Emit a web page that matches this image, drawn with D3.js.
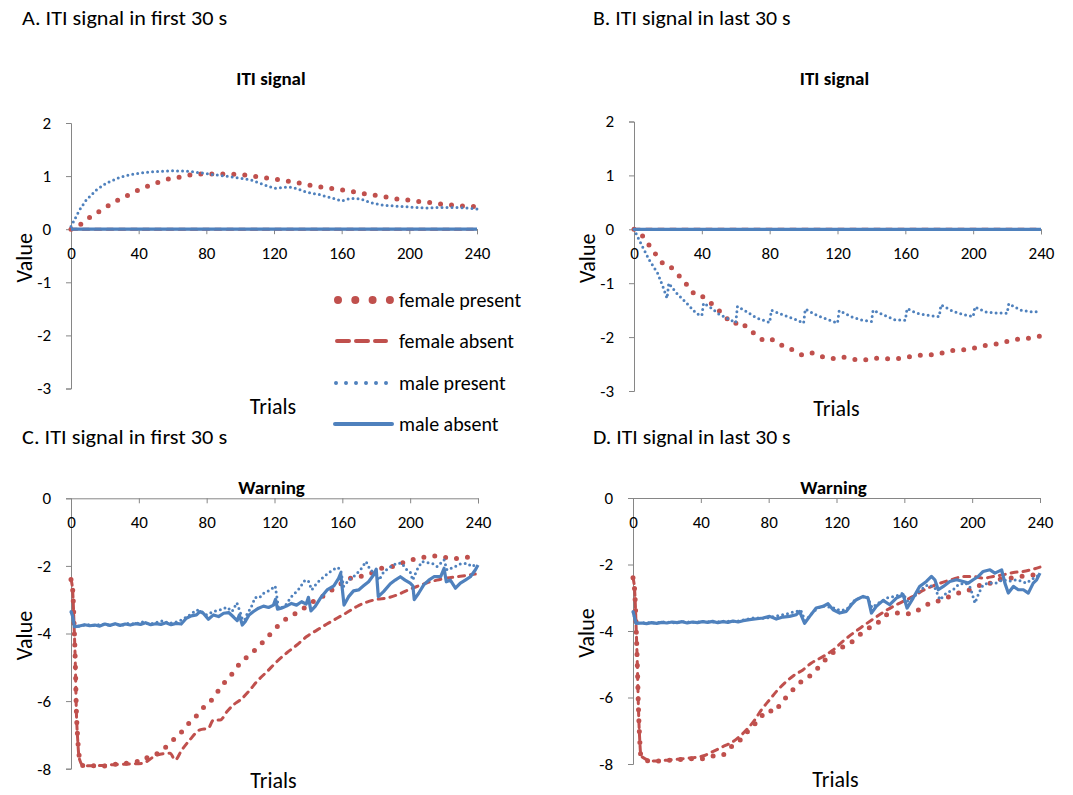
<!DOCTYPE html>
<html>
<head>
<meta charset="utf-8">
<script src="https://cdn.jsdelivr.net/npm/d3@7"></script>
<style>
  body { margin: 0; background: #fff; }
  text { font-family: Carlito, Calibri, Lato, "Noto Sans", sans-serif; fill: #000; }
</style>
</head>
<body>
<div id="chart"></div>
<script>
// trial axis ticks, shared by all four panels
const trialTicks = [0, 40, 80, 120, 160, 200, 240];
const itiTicks = [2, 1, 0, -1, -2, -3];
const warnTicks = [0, -2, -4, -6, -8];

const seriesNames = ["female present", "female absent", "male present", "male absent"];

// A. ITI signal, first 30 s
const aFemalePresent = [[0,0],[6.7,0.11],[11.8,0.24],[17.5,0.35],[23,0.46],[29,0.57],[35,0.66],[40.8,0.75],[47,0.83],[53,0.9],[59.6,0.96],[66,0.99],[72,1.03],[79,1.04],[86,1.04],[92,1.04],[99,1.03],[105.5,1.01],[112,0.98],[119,0.95],[125,0.92],[131.6,0.89],[138,0.85],[144.6,0.81],[151,0.78],[158,0.75],[164,0.72],[171,0.68],[177,0.65],[184,0.62],[190,0.58],[197,0.56],[203,0.53],[210,0.51],[216.6,0.48],[223,0.46],[230,0.44],[236,0.43],[240,0.42]];
const aFemaleAbsent = [[0,0],[240,0]];
const aMalePresent = [[0,0.05],[5,0.36],[9,0.55],[15,0.74],[21,0.87],[29,0.98],[37,1.04],[47,1.08],[60,1.1],[70,1.09],[84,1.03],[96,0.98],[106,0.93],[114,0.84],[120,0.77],[126,0.79],[131,0.79],[139,0.7],[147,0.65],[155,0.58],[160,0.53],[165,0.58],[171,0.57],[177,0.5],[185,0.45],[195,0.43],[203,0.41],[210,0.4],[218,0.41],[226,0.41],[234,0.4],[240,0.38]];
const aMaleAbsent = [[0,0],[240,0]];

// B. ITI signal, last 30 s
const bFemalePresent = [[0,0],[5.5,-0.14],[9.2,-0.31],[13.2,-0.48],[17.3,-0.64],[20.5,-0.68],[24.2,-0.77],[28.3,-0.93],[32.7,-1.08],[37,-1.24],[40.5,-1.25],[44.3,-1.34],[49.2,-1.48],[54,-1.63],[58.8,-1.76],[62.2,-1.71],[67.3,-1.85],[72.6,-1.97],[78,-2.08],[82,-2.05],[87.7,-2.16],[93.6,-2.24],[99.7,-2.33],[104,-2.29],[110.6,-2.36],[117,-2.4],[122,-2.37],[128.7,-2.41],[135,-2.43],[141,-2.39],[147,-2.4],[154,-2.4],[160,-2.38],[166,-2.34],[173,-2.33],[179,-2.32],[185,-2.26],[192,-2.24],[198.5,-2.22],[204,-2.17],[211,-2.14],[217,-2.11],[223,-2.05],[230,-2.03],[236.5,-2],[240,-1.98]];
const bFemaleAbsent = [[0,0],[240,0]];
const bMalePresent = [[0,0],[4,-0.26],[9,-0.57],[14,-0.82],[17,-1.06],[19.5,-1.28],[20.5,-1.0],[25,-1.18],[31,-1.37],[37,-1.57],[40,-1.6],[41,-1.37],[45,-1.45],[50,-1.57],[55,-1.65],[60,-1.73],[61,-1.43],[66,-1.52],[72,-1.64],[80,-1.73],[81,-1.5],[88,-1.59],[95,-1.67],[100,-1.74],[101,-1.48],[108,-1.6],[114,-1.67],[120,-1.74],[121,-1.51],[128,-1.62],[134,-1.68],[140,-1.71],[141,-1.5],[148,-1.6],[154,-1.68],[160,-1.69],[161,-1.47],[166,-1.55],[172,-1.59],[180,-1.62],[181,-1.4],[188,-1.52],[194,-1.58],[200,-1.62],[201,-1.44],[207,-1.53],[213,-1.55],[220,-1.56],[221,-1.38],[228,-1.5],[234,-1.53],[240,-1.53]];
const bMaleAbsent = [[0,0],[240,0]];

// C. Warning, first 30 s
const cFemalePresent = [[0,-2.4],[1,-2.71],[1.8,-3.7],[2.6,-4.98],[3.1,-6.16],[3.9,-7.05],[4.9,-7.64],[7.3,-7.91],[14,-7.91],[21,-7.92],[27,-7.86],[32.5,-7.84],[37.8,-7.79],[41.7,-7.79],[45.6,-7.64],[50.6,-7.56],[54.5,-7.43],[58.8,-7.2],[63.3,-7.03],[67.3,-6.78],[71.8,-6.54],[76,-6.33],[80,-6.07],[84,-5.92],[87.5,-5.64],[91.9,-5.37],[95.8,-5.15],[100,-4.86],[104.7,-4.66],[109.6,-4.44],[114,-4.21],[118.4,-3.97],[123,-3.73],[128,-3.53],[133.8,-3.37],[139,-3.19],[144,-3.02],[149.5,-2.87],[154.8,-2.68],[160.3,-2.49],[165.6,-2.35],[171,-2.31],[176.5,-2.23],[182.4,-2.08],[187.3,-2.04],[192.8,-1.98],[198.5,-1.84],[205,-1.79],[211.3,-1.71],[216.8,-1.71],[220.7,-1.75],[225,-1.79],[231.5,-1.75],[237.5,-1.74]];
const cFemaleAbsent = [[0,-2.4],[1,-2.75],[1.8,-3.75],[2.6,-5.0],[3.1,-6.2],[3.9,-7.1],[4.9,-7.7],[7.3,-7.91],[15,-7.91],[25,-7.88],[35,-7.86],[42,-7.84],[50.6,-7.6],[58.4,-7.54],[61.4,-7.74],[65.3,-7.45],[70,-7.15],[76,-6.85],[81,-6.8],[84,-6.56],[88,-6.56],[92,-6.31],[95.8,-6.11],[99.7,-5.97],[104.7,-5.72],[109.6,-5.42],[115.5,-5.13],[121.4,-4.83],[127.3,-4.57],[133.2,-4.34],[139,-4.09],[145,-3.9],[150.9,-3.72],[156.8,-3.55],[162.7,-3.38],[168.6,-3.2],[174.5,-3.07],[180.4,-2.99],[186.3,-2.95],[192.2,-2.86],[198,-2.73],[204,-2.61],[210,-2.5],[215.8,-2.42],[221.7,-2.36],[227.6,-2.32],[233.5,-2.28],[238.4,-2.24]];
const cMalePresent = [[0,-3.35],[1,-3.5],[2,-3.8],[6,-3.76],[10,-3.74],[14,-3.77],[18,-3.72],[22,-3.75],[26,-3.73],[30,-3.76],[34,-3.7],[38,-3.72],[42,-3.66],[46,-3.72],[50,-3.68],[54,-3.62],[58,-3.7],[62,-3.66],[66,-3.58],[70,-3.45],[74,-3.3],[77,-3.35],[80,-3.45],[84,-3.35],[88,-3.3],[92,-3.22],[95,-3.35],[97.8,-3.09],[100,-3.4],[101.7,-3.7],[104,-3.4],[106,-3.25],[108.6,-2.93],[111,-2.95],[113.5,-2.81],[117.5,-2.71],[120.4,-2.59],[122.4,-3.25],[126,-3.2],[130,-2.91],[134,-2.71],[138,-2.42],[140,-2.45],[142,-2.71],[145,-2.51],[149,-2.32],[152.9,-2.17],[156.8,-2.04],[159,-2.1],[160.7,-2.61],[163.7,-2.42],[166.6,-2.32],[170.6,-2.12],[174,-1.87],[176.5,-2.12],[179.5,-2.22],[181.6,-2.42],[184.5,-2.17],[188.5,-2.02],[192.2,-1.92],[195,-1.92],[197.7,-2.1],[200,-2.17],[201.5,-2.42],[204,-2.12],[207,-1.87],[210,-1.9],[213,-1.92],[216,-2.02],[220,-1.82],[221.7,-2.12],[225.7,-2.04],[229.6,-1.94],[233.5,-1.92],[236.5,-2.02],[239.4,-1.92]];
const cMaleAbsent = [[0,-3.35],[1,-3.5],[2,-3.8],[5,-3.78],[8,-3.74],[11,-3.77],[14,-3.75],[17,-3.78],[20,-3.72],[23,-3.76],[26,-3.71],[29,-3.76],[32,-3.72],[35,-3.75],[38,-3.71],[41,-3.73],[44,-3.68],[47,-3.74],[50,-3.71],[53,-3.73],[56,-3.68],[59,-3.74],[62,-3.7],[65,-3.72],[68,-3.55],[71,-3.48],[74,-3.45],[76,-3.35],[78,-3.4],[81,-3.58],[84,-3.45],[87,-3.5],[90,-3.4],[93,-3.38],[96,-3.52],[98,-3.62],[99.3,-3.45],[101,-3.75],[102.7,-3.65],[105,-3.45],[107.6,-3.35],[110.6,-3.25],[113.5,-3.19],[116.5,-3.23],[119.4,-3.16],[120.6,-2.99],[121.8,-3.28],[124,-3.25],[127,-3.19],[130,-3.11],[133,-3.16],[136,-3.06],[138.7,-3.13],[140,-2.93],[141.5,-3.33],[144,-3.2],[147,-2.96],[151,-2.71],[155,-2.59],[157.8,-2.37],[159,-2.22],[161,-3.16],[163.7,-2.91],[166.6,-2.74],[169.6,-2.71],[172.5,-2.59],[175.5,-2.47],[178.4,-2.27],[180,-2.1],[181.2,-2.91],[184.3,-2.76],[188.3,-2.53],[191.2,-2.42],[194.2,-2.32],[197,-2.42],[200,-2.51],[201.6,-2.59],[202.4,-3.0],[205,-2.81],[208,-2.56],[211,-2.42],[214,-2.32],[218,-2.32],[220,-2.07],[221.3,-2.47],[223.7,-2.42],[226.7,-2.66],[229.6,-2.51],[232.5,-2.42],[235.5,-2.32],[238.4,-2.12],[240,-1.97]];

// D. Warning, last 30 s
const dFemalePresent = [[0,-2.4],[1,-2.8],[1.8,-3.8],[2.6,-5.1],[3.2,-6.3],[3.9,-7.2],[4.7,-7.78],[9.6,-7.91],[15.6,-7.91],[22.4,-7.88],[28.4,-7.86],[34.8,-7.84],[40.8,-7.84],[46.7,-7.76],[51,-7.76],[55,-7.66],[59.3,-7.41],[63.2,-7.28],[67.3,-7.04],[71.3,-6.83],[75.8,-6.56],[80,-6.38],[82.9,-6.45],[87.2,-6.17],[91.6,-5.92],[95.9,-5.68],[100.2,-5.48],[104,-5.36],[108.5,-5.14],[113.2,-4.88],[118,-4.65],[123,-4.5],[128,-4.37],[133,-4.14],[138.2,-3.94],[143.5,-3.79],[149.4,-3.51],[155,-3.46],[159.3,-3.48],[164.2,-3.48],[170,-3.31],[175.4,-3.16],[181,-3.08],[186.8,-2.96],[192.8,-2.84],[198.7,-2.76],[205,-2.62],[211,-2.56],[216.8,-2.44],[222.7,-2.41],[228.6,-2.36],[234.5,-2.33],[239,-2.29]];
const dFemaleAbsent = [[0,-2.4],[1,-2.8],[1.8,-3.8],[2.6,-5.1],[3.2,-6.3],[3.9,-7.2],[4.7,-7.76],[11.6,-7.91],[21.5,-7.88],[31.3,-7.83],[41.1,-7.76],[47,-7.63],[53,-7.48],[58.9,-7.33],[63.8,-7.13],[67.7,-6.93],[71.7,-6.68],[75.6,-6.38],[80.5,-6.07],[85.4,-5.77],[90.4,-5.52],[95.3,-5.32],[100.2,-5.17],[105,-4.97],[112,-4.77],[118,-4.57],[124,-4.3],[129.7,-4.07],[135.7,-3.85],[141.6,-3.64],[147.5,-3.44],[153.4,-3.26],[159.3,-3.11],[165.2,-2.96],[171,-2.78],[177,-2.64],[183,-2.53],[188.8,-2.44],[194.7,-2.36],[200.6,-2.36],[206.6,-2.41],[212.5,-2.36],[218.3,-2.31],[224.3,-2.24],[230,-2.21],[236,-2.14],[240,-2.08]];
const dMalePresent = [[0,-3.41],[1.8,-3.77],[6,-3.75],[12,-3.76],[18,-3.73],[24,-3.75],[30,-3.72],[36,-3.74],[42,-3.71],[48,-3.73],[54,-3.7],[60,-3.72],[66,-3.66],[72,-3.6],[78,-3.62],[84,-3.55],[90,-3.5],[95,-3.42],[99,-3.38],[101.5,-3.7],[105,-3.5],[109,-3.3],[113,-3.25],[118,-3.3],[122,-3.38],[126,-3.35],[130,-3.1],[134,-3.0],[138,-2.95],[141,-3.3],[145,-3.15],[150,-3.0],[155,-2.95],[159,-2.86],[162,-3.1],[166,-2.95],[170,-2.75],[174,-2.6],[178,-2.7],[181,-3.06],[185,-2.85],[188.8,-2.76],[192,-2.6],[196,-2.55],[199,-2.7],[201.6,-3.16],[204,-2.85],[206.5,-2.61],[210,-2.55],[214,-2.56],[218,-2.46],[222,-2.5],[226,-2.46],[229,-2.5],[232,-2.56],[235,-2.45],[238,-2.36],[240,-2.3]];
const dMaleAbsent = [[0,-3.41],[1.8,-3.77],[5,-3.76],[8,-3.78],[11,-3.75],[14,-3.77],[17,-3.74],[20,-3.76],[23,-3.73],[26,-3.75],[29,-3.72],[32,-3.76],[35,-3.73],[38,-3.75],[41,-3.72],[44,-3.74],[47,-3.71],[50,-3.75],[53,-3.72],[56,-3.74],[59,-3.7],[62,-3.73],[65,-3.69],[68.7,-3.66],[72,-3.64],[76.6,-3.61],[80.5,-3.56],[84.5,-3.64],[88.4,-3.58],[92.3,-3.56],[96.3,-3.51],[98.2,-3.41],[101.2,-3.77],[104.2,-3.56],[108,-3.31],[112,-3.26],[115,-3.18],[118,-3.36],[121.9,-3.46],[125.8,-3.41],[128.8,-3.21],[131.7,-3.06],[135.7,-2.96],[138.6,-3.01],[140.6,-3.46],[143.5,-3.26],[147.5,-3.08],[151.4,-3.21],[155.3,-3.01],[159.3,-2.91],[161.6,-3.31],[165.2,-3.01],[169,-2.66],[173,-2.51],[176,-2.36],[178,-2.46],[180,-2.76],[183,-2.66],[186.8,-2.51],[190.8,-2.46],[194.7,-2.51],[197.7,-2.56],[200.6,-2.46],[203.6,-2.36],[206.5,-2.21],[210.5,-2.16],[213.4,-2.26],[217.4,-2.16],[219.3,-2.56],[221.3,-2.86],[224.3,-2.66],[227.2,-2.76],[230.2,-2.76],[233.1,-2.86],[236,-2.56],[238,-2.46],[240,-2.26]];

const red = "#C0504D", blue = "#4F81BD", axisColor = "#868686";

// line look per series (same order as seriesNames)
const styles = [
    {color: red,  width: 5, dash: "0 11", cap: "round", curve: d3.curveMonotoneX},
    {color: red,  width: 3, dash: "6 6",  cap: "round", curve: d3.curveMonotoneX},
    {color: blue, width: 3, dash: "0 5",  cap: "round", curve: d3.curveLinear},
    {color: blue, width: 3.2, dash: null, cap: "butt",  curve: d3.curveLinear}
];

const width = 1073, height = 795;
const svg = d3.select("#chart").append("svg")
    .attr("width", width)
    .attr("height", height);

const panels = [
    {label: "A. ITI signal in first 30 s", lx: 22, ly: 25, title: "ITI signal", ty: 85,
     x0: 71, x1: 477, yT: 123, yB: 388.5, dom: [-3, 2], ticks: itiTicks, trialsY: 414,
     series: [aFemalePresent, aFemaleAbsent, aMalePresent, aMaleAbsent]},
    {label: "B. ITI signal in last 30 s", lx: 593, ly: 25, title: "ITI signal", ty: 85,
     x0: 634, x1: 1041, yT: 121.5, yB: 391, dom: [-3, 2], ticks: itiTicks, trialsY: 416,
     series: [bFemalePresent, bFemaleAbsent, bMalePresent, bMaleAbsent]},
    {label: "C. ITI signal in first 30 s", lx: 22, ly: 444, title: "Warning", ty: 494,
     x0: 71, x1: 478, yT: 498.3, yB: 768.7, dom: [-8, 0], ticks: warnTicks, trialsY: 788,
     series: [cFemalePresent, cFemaleAbsent, cMalePresent, cMaleAbsent]},
    {label: "D. ITI signal in last 30 s", lx: 593, ly: 444, title: "Warning", ty: 494,
     x0: 633, x1: 1040, yT: 498, yB: 764, dom: [-8, 0], ticks: warnTicks, trialsY: 787,
     series: [dFemalePresent, dFemaleAbsent, dMalePresent, dMaleAbsent]}
];

panels.forEach(drawPanel);

function drawPanel(p) {
    const g = svg.append("g");
    const x = d3.scaleLinear().domain([0, 240]).range([p.x0, p.x1]);
    const y = d3.scaleLinear().domain(p.dom).range([p.yB, p.yT]);

    // panel letter heading
    g.append("text")
        .attr("x", p.lx).attr("y", p.ly)
        .attr("textLength", p.label.length * 7.6)
        .attr("lengthAdjust", "spacingAndGlyphs")
        .style("font-size", "20px")
        .text(p.label);

    // chart title
    g.append("text")
        .attr("x", (p.x0 + p.x1) / 2 - 3).attr("y", p.ty)
        .attr("text-anchor", "middle")
        .style("font-size", "19px").style("font-weight", "bold")
        .text(p.title);

    // y axis
    const yAxis = g.append("g")
        .attr("transform", `translate(${p.x0},0)`)
        .call(d3.axisLeft(y).tickValues(p.ticks).tickSize(5).tickPadding(15).tickFormat(d => String(d)));
    yAxis.select(".domain").attr("stroke", axisColor);
    yAxis.selectAll(".tick line").attr("stroke", axisColor);
    yAxis.selectAll(".tick text").style("font-size", "17px").style("font-family", null).attr("fill", "#000");

    // x axis sits on value 0
    const xAxis = g.append("g")
        .attr("transform", `translate(0,${y(0)})`)
        .call(d3.axisBottom(x).tickValues(trialTicks).tickSize(5).tickSizeOuter(5).tickPadding(13));
    xAxis.select(".domain").attr("stroke", axisColor);
    xAxis.selectAll(".tick line").attr("stroke", axisColor);
    xAxis.selectAll(".tick text").style("font-size", "17px").style("font-family", null).attr("fill", "#000");

    // axis titles
    g.append("text")
        .attr("transform", `translate(${p.x0 - 47},${(p.yT + p.yB) / 2 + 2}) rotate(-90)`)
        .attr("text-anchor", "middle")
        .attr("dy", "0.35em")
        .style("font-size", "22px")
        .text("Value");
    g.append("text")
        .attr("x", (p.x0 + p.x1) / 2 - 1).attr("y", p.trialsY)
        .attr("text-anchor", "middle")
        .style("font-size", "22px")
        .text("Trials");

    const line = d3.line().x(d => x(d[0])).y(d => y(d[1]));

    p.series.forEach((s, i) => {
        const st = styles[i];
        g.append("path")
            .datum(s)
            .attr("fill", "none")
            .attr("stroke", st.color)
            .attr("stroke-width", st.width)
            .attr("stroke-dasharray", st.dash)
            .attr("stroke-linecap", st.cap)
            .attr("stroke-linejoin", "round")
            .attr("d", line.curve(st.curve));
    });
}

// legend (sits inside panel A, as in the original figure)
const legendRows = [
    {y: 300, x1: 338, x2: 390, width: 8, dash: "0 17.3", cap: "round"},
    {y: 341, x1: 337, x2: 386, width: 4, dash: "12 7",  cap: "round"},
    {y: 383, x1: 336, x2: 388, width: 4, dash: "0 10",  cap: "round"},
    {y: 424, x1: 335, x2: 392, width: 4, dash: null,    cap: "round"}
];
const legend = svg.append("g").attr("class", "legend");
legendRows.forEach((r, i) => {
    legend.append("line")
        .attr("x1", r.x1).attr("x2", r.x2)
        .attr("y1", r.y).attr("y2", r.y)
        .attr("stroke", styles[i].color)
        .attr("stroke-width", r.width)
        .attr("stroke-dasharray", r.dash)
        .attr("stroke-linecap", r.cap);
    legend.append("text")
        .attr("x", 399).attr("y", r.y)
        .attr("dy", "0.35em")
        .style("font-size", "20px")
        .text(seriesNames[i]);
});
</script>
</body>
</html>
